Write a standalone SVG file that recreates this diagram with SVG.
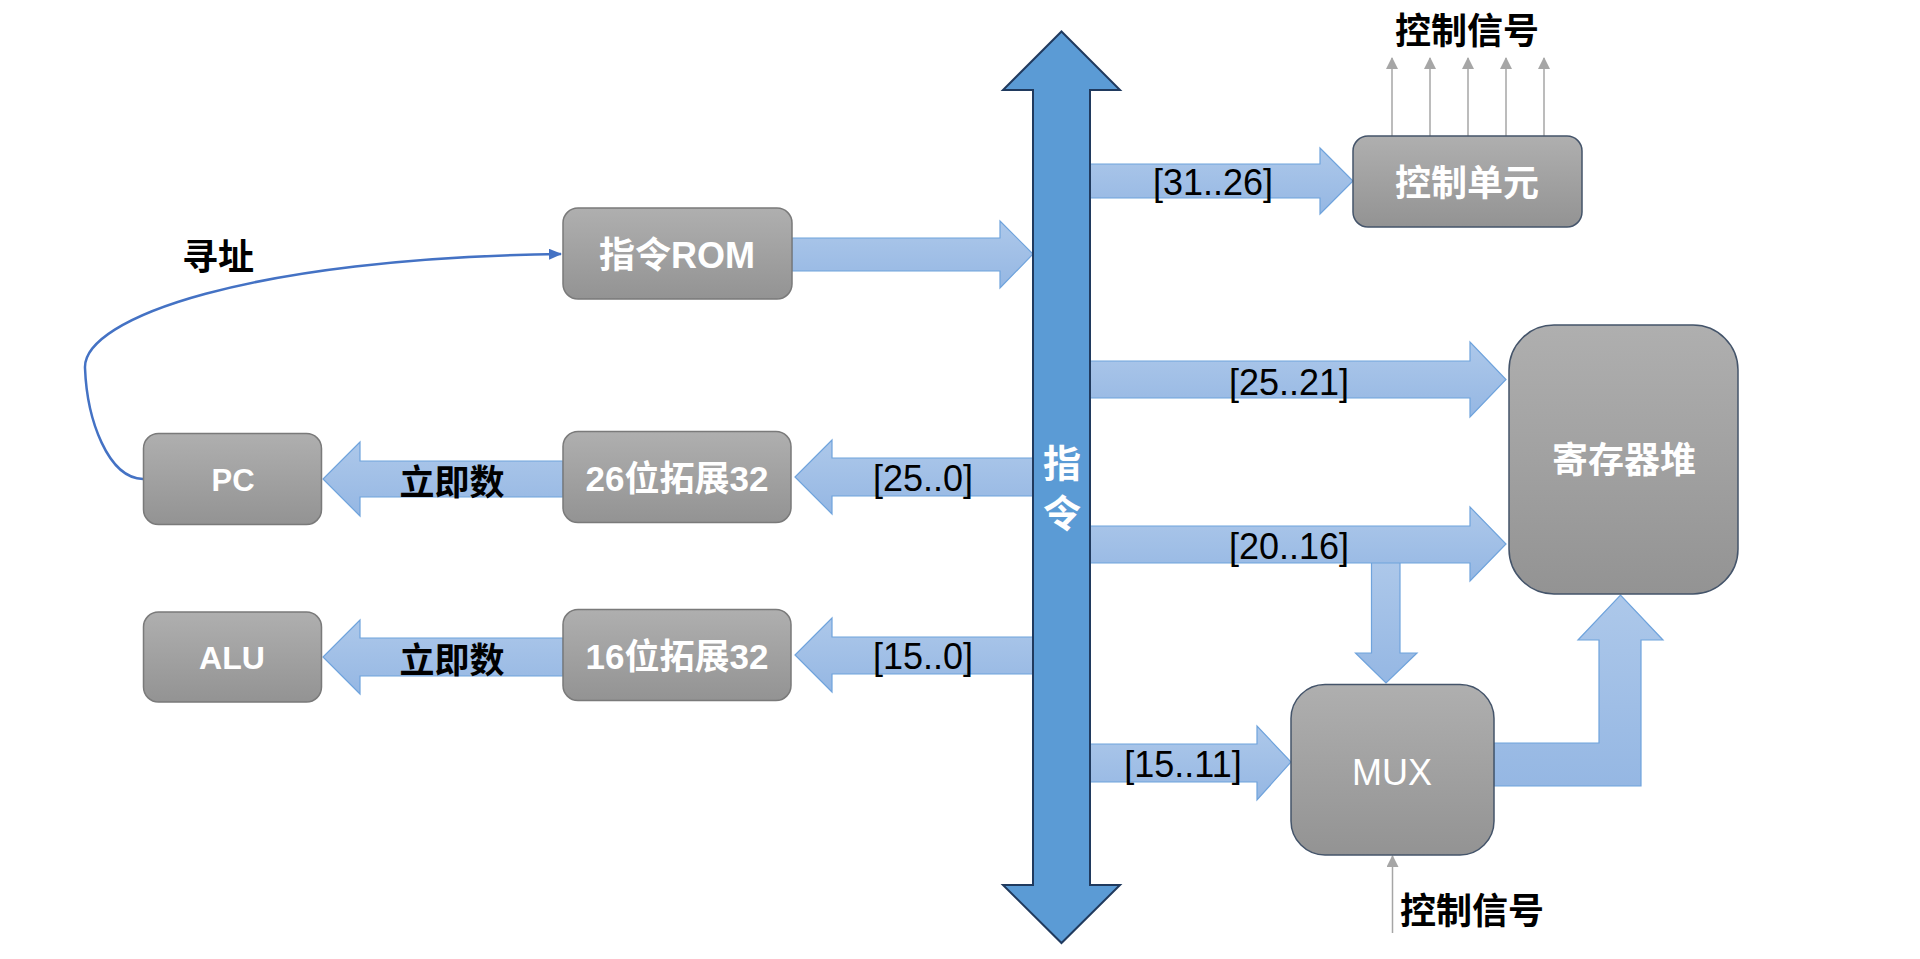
<svg xmlns="http://www.w3.org/2000/svg" width="1920" height="959" viewBox="0 0 1920 959">
<style>
.box{stroke:#7a7a7a;stroke-width:1.5;fill:url(#boxGrad)}
.boxd{stroke:#44546a;stroke-width:1.5;fill:url(#boxGrad)}
.blk{fill:url(#arrGrad);stroke:#6fa3dc;stroke-width:1.2}
.t{font-family:"Liberation Sans","Noto Sans CJK SC",sans-serif;text-anchor:middle;dominant-baseline:central}
.wb{fill:#ffffff;font-weight:bold}
.wr{fill:#ffffff}
.kb{fill:#000000;font-weight:bold;font-family:"Noto Sans CJK SC","Liberation Sans",sans-serif}
.lab{fill:#000000;font-size:36px}
.sig{stroke:#a6a6a6;stroke-width:1.5;fill:none;marker-end:url(#gHead)}
</style>
<defs>
<linearGradient id="boxGrad" x1="0" y1="0" x2="0" y2="1">
<stop offset="0" stop-color="#afafaf"/>
<stop offset="1" stop-color="#939393"/>
</linearGradient>
<linearGradient id="arrGrad" x1="0" y1="0" x2="0" y2="1">
<stop offset="0" stop-color="#adc8ea"/>
<stop offset="1" stop-color="#95b7e3"/>
</linearGradient>
<marker id="gHead" markerWidth="12" markerHeight="12" refX="11" refY="6" orient="auto" markerUnits="userSpaceOnUse">
<path d="M0,0 L12,6 L0,12 Z" fill="#a6a6a6"/>
</marker>
<marker id="bHead" markerWidth="13" markerHeight="11" refX="12" refY="5.5" orient="auto" markerUnits="userSpaceOnUse">
<path d="M0,0 L13,5.5 L0,11 Z" fill="#4472c4"/>
</marker>
</defs>
<rect width="1920" height="959" fill="#ffffff"/>

<g id="connectors">
<polygon class="blk" points="792,238 1000,238 1000,221 1033,254 1000,288 1000,271 792,271"/>
<polygon class="blk" points="1090,164 1320,164 1320,148 1353,181 1320,214 1320,198 1090,198"/>
<text class="t lab" x="1213" y="182">[31..26]</text>
<polygon class="blk" points="1090,361 1470,361 1470,342 1506,379.5 1470,417 1470,398 1090,398"/>
<text class="t lab" x="1289" y="382">[25..21]</text>
<polygon class="blk" points="1371.5,560 1400,560 1400,653 1417,653 1386,683 1355.5,653 1371.5,653"/>
<polygon class="blk" points="1090,526 1470,526 1470,507 1506,544 1470,581 1470,563 1090,563"/>
<text class="t lab" x="1289" y="546">[20..16]</text>
<polygon class="blk" points="1090,744 1257,744 1257,726 1291,762 1257,800 1257,782 1090,782"/>
<text class="t lab" x="1183" y="764">[15..11]</text>
<polygon class="blk" points="1494,743 1599,743 1599,640 1578,640 1620.5,595 1663,640 1641,640 1641,786 1494,786"/>
<polygon class="blk" points="1033,458 832,458 832,440 795,477 832,514 832,496 1033,496"/>
<text class="t lab" x="923" y="478">[25..0]</text>
<polygon class="blk" points="1033,637 832,637 832,618 795,655 832,692 832,674 1033,674"/>
<text class="t lab" x="923" y="656">[15..0]</text>
<polygon class="blk" points="563,461 360,461 360,442 323,479 360,516 360,497 563,497"/>
<text class="t kb" x="452" y="479" font-size="35">立即数</text>
<polygon class="blk" points="563,638 360,638 360,620 323,657 360,694 360,676 563,676"/>
<text class="t kb" x="452" y="657" font-size="35">立即数</text>
<path d="M143,479 C108,478 87,420 85,368 C83,318 250,258 561,254" fill="none" stroke="#4472c4" stroke-width="2.5" marker-end="url(#bHead)"/>
<text class="t kb" x="218" y="254" font-size="36">寻址</text>
<line class="sig" x1="1392" y1="136" x2="1392" y2="58"/>
<line class="sig" x1="1430" y1="136" x2="1430" y2="58"/>
<line class="sig" x1="1468" y1="136" x2="1468" y2="58"/>
<line class="sig" x1="1506" y1="136" x2="1506" y2="58"/>
<line class="sig" x1="1544" y1="136" x2="1544" y2="58"/>
<text class="t kb" x="1467" y="28" font-size="36">控制信号</text>
<line class="sig" x1="1392.5" y1="933" x2="1392.5" y2="856"/>
<text class="t kb" x="1472" y="908" font-size="36">控制信号</text>
</g>

<g id="bus">
<polygon points="1061.5,31.5 1120,90 1090,90 1090,885 1120,885 1061.5,943 1003,885 1033,885 1033,90 1003,90" fill="#5b9bd5" stroke="#203a5e" stroke-width="2"/>
<text class="t wb" x="1062" y="464" font-size="38">指</text>
<text class="t wb" x="1062" y="514" font-size="38">令</text>
</g>

<g id="rom">
<rect class="box" x="563" y="208" width="229" height="91" rx="15"/>
<text class="t wb" x="677" y="255" font-size="36">指令ROM</text>
</g>

<g id="control-unit">
<rect class="boxd" x="1353" y="136" width="229" height="91" rx="15"/>
<text class="t wb" x="1467" y="183" font-size="36">控制单元</text>
</g>

<g id="pc">
<rect class="box" x="143.5" y="433.5" width="178" height="91" rx="15"/>
<text class="t wb" x="233" y="480" font-size="31">PC</text>
</g>

<g id="ext26">
<rect class="box" x="563" y="431.5" width="228" height="91" rx="15"/>
<text class="t wb" x="677" y="478" font-size="35">26位拓展32</text>
</g>

<g id="alu">
<rect class="box" x="143.5" y="612" width="178" height="90" rx="15"/>
<text class="t wb" x="232" y="658" font-size="32">ALU</text>
</g>

<g id="ext16">
<rect class="box" x="563" y="609.5" width="228" height="91" rx="15"/>
<text class="t wb" x="677" y="656" font-size="35">16位拓展32</text>
</g>

<g id="register-file">
<rect class="boxd" x="1509" y="325" width="229" height="269" rx="45"/>
<text class="t wb" x="1624" y="460" font-size="36">寄存器堆</text>
</g>

<g id="mux">
<rect class="boxd" x="1291" y="684.5" width="203" height="170.5" rx="34"/>
<text class="t wr" x="1392" y="772" font-size="36">MUX</text>
</g>
</svg>
